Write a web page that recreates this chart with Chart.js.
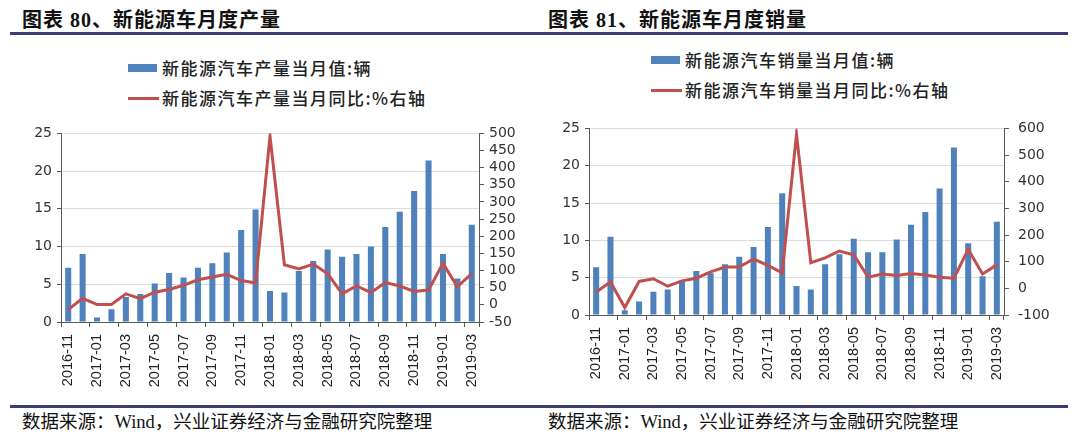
<!DOCTYPE html>
<html>
<head>
<meta charset="utf-8">
<script src="https://cdn.jsdelivr.net/npm/chart.js@4/dist/chart.umd.min.js"></script>
<style>
  body { margin: 0; background: #fff; }
  #page { position: relative; width: 1080px; height: 443px; overflow: hidden; }
  .title { position: absolute; top: 4px; font: bold 20px "Liberation Serif", "Noto Sans CJK SC"; letter-spacing: 1px; color: #111; }
  .rule { position: absolute; left: 10px; width: 1058px; height: 3px; background: #3b3d73; }
  .legend { position: absolute; font: 500 17px "Noto Sans CJK SC"; letter-spacing: 1.5px; color: #222; }
  .legend div { height: 30px; line-height: 30px; white-space: nowrap; }
  .legend span.box { display: inline-block; width: 29px; height: 8px; background: #4f81bd; vertical-align: middle; margin-right: 5px; position: relative; top: -2px; }
  .legend span.ln { display: inline-block; width: 31px; height: 3px; background: #c0504d; vertical-align: middle; margin-right: 3px; position: relative; top: -2px; }
  .source { position: absolute; top: 407px; font: 18.5px "Liberation Serif", "Noto Sans CJK SC"; color: #111; }
  canvas { position: absolute; }
</style>
</head>
<body>
<div id="page">
  <div class="title" style="left:22px">图表 80、新能源车月度产量</div>
  <div class="title" style="left:548px">图表 81、新能源车月度销量</div>
  <div class="rule" style="top:32px"></div>

  <div class="legend" style="left:128px; top:53px">
    <div><span class="box"></span>新能源汽车产量当月值:辆</div>
    <div><span class="ln"></span>新能源汽车产量当月同比:%右轴</div>
  </div>
  <div class="legend" style="left:651px; top:45px">
    <div><span class="box"></span>新能源汽车销量当月值:辆</div>
    <div><span class="ln"></span>新能源汽车销量当月同比:%右轴</div>
  </div>

  <canvas id="prodChart" width="540" height="272" style="left:0; top:120px"></canvas>
  <canvas id="salesChart" width="540" height="274" style="left:540px; top:111px"></canvas>

  <div class="rule" style="top:405px"></div>
  <div class="source" style="left:22px">数据来源：Wind，兴业证券经济与金融研究院整理</div>
  <div class="source" style="left:548px">数据来源：Wind，兴业证券经济与金融研究院整理</div>
</div>

<script>
// MONTHS 2016-11 .. 2019-03
const months = ['2016-11','2016-12',
  '2017-01','2017-02','2017-03','2017-04','2017-05','2017-06','2017-07','2017-08','2017-09','2017-10','2017-11','2017-12',
  '2018-01','2018-02','2018-03','2018-04','2018-05','2018-06','2018-07','2018-08','2018-09','2018-10','2018-11','2018-12',
  '2019-01','2019-02','2019-03'];

// production (left chart)
const prodValues = [7.2,9.0,0.6,1.7,3.3,3.7,5.1,6.5,5.9,7.2,7.8,9.2,12.2,14.9,
  4.1,3.9,6.75,8.1,9.6,8.65,9.0,10.0,12.6,14.6,17.35,21.4,9.0,5.75,12.9];
const prodYoY = [-14,19,1,1,32,18,37,45,57,73,81,89,71,64,
  492,117,105,119,91,32,55,36,65,55,39,43,121,53,91];

// sales (right chart)
const salesValues = [6.4,10.5,0.65,1.8,3.1,3.4,4.6,5.9,5.6,6.8,7.8,9.1,11.8,16.3,
  3.9,3.4,6.8,8.15,10.2,8.4,8.4,10.1,12.1,13.8,16.95,22.45,9.6,5.2,12.5];
const salesYoY = [-14,24,-72,26,36,8,28,38,62,80,80,110,86,58,
  578,96,114,140,126,42,54,48,56,50,42,38,146,54,88];

// axis ranges [min, max, step]
const prodLeftTicks = [0, 25, 5];
const prodRightTicks = [-50, 500, 50];
const salesLeftTicks = [0, 25, 5];
const salesRightTicks = [-100, 600, 100];

const BLUE = '#4f81bd';
const RED = '#c0504d';
const AXIS = '#595959';
const GRID = '#dcdcdc';

function makeChart(id, bars, line, leftT, rightT, leftW, rightW, rightPad) {
    const ctx = document.getElementById(id);
    return new Chart(ctx, {
        type: 'bar',
        data: {
            labels: months,
            datasets: [{
                type: 'line',
                data: line,
                yAxisID: 'y1',
                borderColor: RED,
                borderWidth: 3,
                pointRadius: 0,
                tension: 0,
                order: 0,
            },
            {
                data: bars,
                yAxisID: 'y',
                backgroundColor: BLUE,
                barPercentage: 0.42,
                categoryPercentage: 1,
                order: 1,
            }]
        },
        options: {
            responsive: false,
            animation: false,
            layout: { padding: { top: 10, left: 0, right: 0, bottom: 0 } },
            plugins: { legend: { display: false }, tooltip: { enabled: false } },
            scales: {
                x: {
                    afterFit: (s) => { s.height = 70; },
                    border: { color: AXIS, width: 1 },
                    grid: {
                        offset: true,
                        drawOnChartArea: false,
                        tickLength: 5,
                        tickColor: (c) => c.index % 2 ? 'rgba(0,0,0,0)' : AXIS,
                    },
                    ticks: {
                        autoSkip: false,
                        minRotation: 90,
                        maxRotation: 90,
                        padding: 7,
                        color: '#222',
                        font: { family: 'Liberation Sans', size: 14.5 },
                        callback: function(value, index) {
                            return index % 2 === 0 ? this.getLabelForValue(value) : '';
                        },
                    },
                },
                y: {
                    position: 'left',
                    min: leftT[0],
                    max: leftT[1],
                    afterFit: (s) => { s.width = leftW; },
                    border: { color: AXIS, width: 1 },
                    grid: { color: GRID, tickColor: AXIS, tickLength: 4 },
                    ticks: {
                        autoSkip: false,
                        stepSize: leftT[2],
                        padding: 5,
                        color: '#333',
                        font: { family: 'DejaVu Sans', size: 14 },
                    },
                },
                y1: {
                    position: 'right',
                    min: rightT[0],
                    max: rightT[1],
                    afterFit: (s) => { s.width = rightW; },
                    border: { color: AXIS, width: 1 },
                    grid: { drawOnChartArea: false, tickColor: AXIS, tickLength: 5 },
                    ticks: {
                        autoSkip: false,
                        stepSize: rightT[2],
                        padding: rightPad,
                        color: '#333',
                        font: { family: 'DejaVu Sans', size: 14 },
                    },
                },
            },
        }
    });
}

const prodChart = makeChart('prodChart', prodValues, prodYoY, prodLeftTicks, prodRightTicks, 61, 61, 5);
const salesChart = makeChart('salesChart', salesValues, salesYoY, salesLeftTicks, salesRightTicks, 49, 76, 9);
</script>
</body>
</html>
